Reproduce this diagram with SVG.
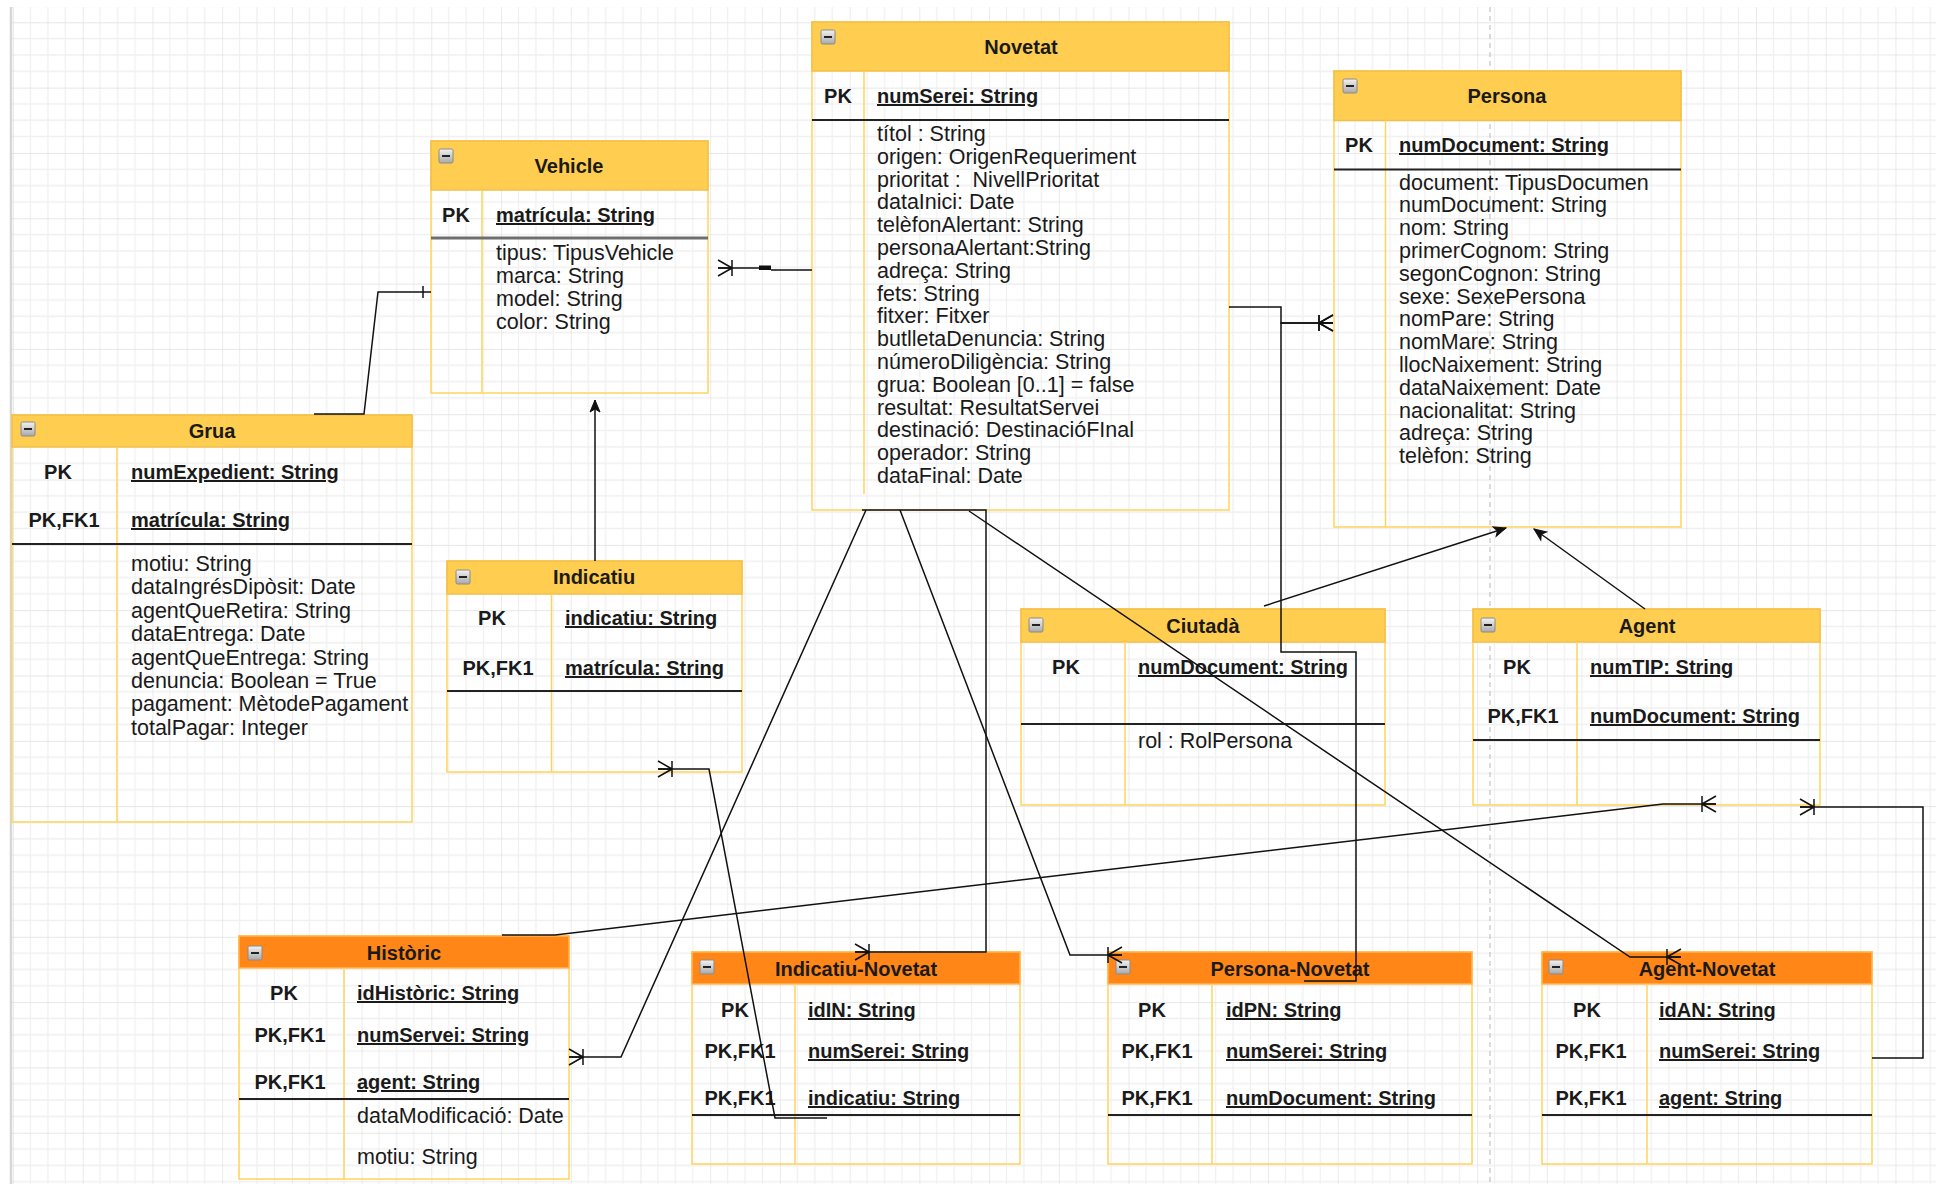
<svg xmlns="http://www.w3.org/2000/svg" xmlns:xlink="http://www.w3.org/1999/xlink" width="1936" height="1184" viewBox="0 0 1936 1184">
  <style>
    .hdr { fill: #FFCD4F; stroke: #F2C04A; stroke-width: 1.5; }
    .hdr2 { fill: #FF8617; stroke: #FFB54D; stroke-width: 1.5; }
    .box { fill: none; stroke: #FFD45C; stroke-width: 1.5; }
    .col { stroke: #FFD45C; stroke-width: 1.5; }
    .div { stroke: #222; stroke-width: 2; }
    .t { font-family: "Liberation Sans", Arial, sans-serif; font-size: 21.5px; fill: #1a1a1a; }
    .k { font-family: "Liberation Sans", Arial, sans-serif; font-size: 20px; font-weight: bold; fill: #1a1a1a; }
    .u { text-decoration: underline; }
    .c { text-anchor: middle; }
    .edge { fill: none; stroke: #111; stroke-width: 1.5; }
  </style>
  <defs>
    <pattern id="grid" x="13" y="22.3" width="69.72" height="65.32" patternUnits="userSpaceOnUse">
      <path d="M17.43,0V65.32M34.86,0V65.32M52.29,0V65.32M0,16.33H69.72M0,32.66H69.72M0,48.99H69.72" stroke="#f0f0f0" stroke-width="1.3" fill="none"/>
      <path d="M0,0V65.32M0,0H69.72" stroke="#e0e0e0" stroke-width="1.3" fill="none"/>
    </pattern>
    <linearGradient id="btn" x1="0" y1="0" x2="0" y2="1">
      <stop offset="0" stop-color="#f2f2f2"/>
      <stop offset="1" stop-color="#a9a9a9"/>
    </linearGradient>
    <g id="mn">
      <rect x="0" y="0" width="14" height="14" rx="1.5" fill="url(#btn)" stroke="#8a8a8a" stroke-width="1"/>
      <rect x="3" y="6" width="8" height="2" fill="#222"/>
    </g>
    <marker id="many" viewBox="-17 -10 19 20" refX="0" refY="0" markerWidth="19" markerHeight="20" markerUnits="userSpaceOnUse" orient="auto" overflow="visible">
      <path d="M-14,-8V8M-14,0L0,-8M-14,0L0,8M-14,0H0" fill="none" stroke="#111" stroke-width="1.5"/>
    </marker>
    <marker id="one" viewBox="-10 -8 12 16" refX="0" refY="0" markerWidth="12" markerHeight="16" markerUnits="userSpaceOnUse" orient="auto" overflow="visible">
      <path d="M-8,-6V6" fill="none" stroke="#111" stroke-width="1.5"/>
    </marker>
    <marker id="arrow" viewBox="-13 -6 14 12" refX="0" refY="0" markerWidth="14" markerHeight="12" markerUnits="userSpaceOnUse" orient="auto" overflow="visible">
      <path d="M0,0L-12,-5L-9,0L-12,5Z" fill="#111" stroke="#111" stroke-width="1"/>
    </marker>
  </defs>

  <!-- canvas -->
  <rect x="0" y="0" width="1936" height="1184" fill="#ffffff"/>
  <rect x="11" y="7" width="1925" height="1177" fill="url(#grid)"/>
  <line x1="11" y1="7" x2="11" y2="1184" stroke="#d6d6d6" stroke-width="2.5"/>
  <line x1="1490" y1="7" x2="1490" y2="1184" stroke="#b8b8b8" stroke-width="1" stroke-dasharray="5 4"/>

  <!-- Vehicle -->
  <g id="vehicle">
    <rect class="box" x="431" y="141" width="277" height="252"/>
    <rect class="hdr" x="431" y="141" width="277" height="49"/>
    <use href="#mn" x="439" y="149"/>
    <text class="k c" x="569" y="173">Vehicle</text>
    <line class="col" x1="482" y1="190" x2="482" y2="393"/>
    <line x1="431" y1="238" x2="708" y2="238" stroke="#6f6f6f" stroke-width="3"/>
    <text class="k c" x="456" y="222">PK</text>
    <text class="k u" x="496" y="222">matrícula: String</text>
    <text class="t" x="496" y="260">tipus: TipusVehicle</text>
    <text class="t" x="496" y="283">marca: String</text>
    <text class="t" x="496" y="306">model: String</text>
    <text class="t" x="496" y="329">color: String</text>
  </g>

  <!-- Novetat -->
  <g id="novetat">
    <rect class="box" x="812" y="22" width="417" height="488"/>
    <rect class="hdr" x="812" y="22" width="417" height="49"/>
    <use href="#mn" x="821" y="30"/>
    <text class="k c" x="1021" y="54">Novetat</text>
    <line class="col" x1="864" y1="71" x2="864" y2="494"/>
    <line class="div" x1="812" y1="120" x2="1229" y2="120"/>
    <text class="k c" x="838" y="103">PK</text>
    <text class="k u" x="877" y="103">numSerei: String</text>
    <text class="t" x="877" y="141">títol : String</text>
    <text class="t" x="877" y="163.8">origen: OrigenRequeriment</text>
    <text class="t" x="877" y="186.6">prioritat : &#160;NivellPrioritat</text>
    <text class="t" x="877" y="209.4">dataInici: Date</text>
    <text class="t" x="877" y="232.2">telèfonAlertant: String</text>
    <text class="t" x="877" y="255">personaAlertant:String</text>
    <text class="t" x="877" y="277.8">adreça: String</text>
    <text class="t" x="877" y="300.6">fets: String</text>
    <text class="t" x="877" y="323.4">fitxer: Fitxer</text>
    <text class="t" x="877" y="346.2">butlletaDenuncia: String</text>
    <text class="t" x="877" y="369">númeroDiligència: String</text>
    <text class="t" x="877" y="391.8">grua: Boolean [0..1] = false</text>
    <text class="t" x="877" y="414.6">resultat: ResultatServei</text>
    <text class="t" x="877" y="437.4">destinació: DestinacióFInal</text>
    <text class="t" x="877" y="460.2">operador: String</text>
    <text class="t" x="877" y="483">dataFinal: Date</text>
  </g>

  <!-- Persona -->
  <g id="persona">
    <rect class="box" x="1334" y="71" width="347" height="456"/>
    <rect class="hdr" x="1334" y="71" width="347" height="49.5"/>
    <use href="#mn" x="1343" y="79"/>
    <text class="k c" x="1507" y="103">Persona</text>
    <line class="col" x1="1385.5" y1="120.5" x2="1385.5" y2="527"/>
    <line class="div" x1="1334" y1="169.5" x2="1681" y2="169.5"/>
    <text class="k c" x="1359" y="152">PK</text>
    <text class="k u" x="1399" y="152">numDocument: String</text>
    <text class="t" x="1399" y="189.5">document: TipusDocumen</text>
    <text class="t" x="1399" y="212.3">numDocument: String</text>
    <text class="t" x="1399" y="235.1">nom: String</text>
    <text class="t" x="1399" y="257.9">primerCognom: String</text>
    <text class="t" x="1399" y="280.7">segonCognon: String</text>
    <text class="t" x="1399" y="303.5">sexe: SexePersona</text>
    <text class="t" x="1399" y="326.3">nomPare: String</text>
    <text class="t" x="1399" y="349.1">nomMare: String</text>
    <text class="t" x="1399" y="371.9">llocNaixement: String</text>
    <text class="t" x="1399" y="394.7">dataNaixement: Date</text>
    <text class="t" x="1399" y="417.5">nacionalitat: String</text>
    <text class="t" x="1399" y="440.3">adreça: String</text>
    <text class="t" x="1399" y="463.1">telèfon: String</text>
  </g>

  <!-- Grua -->
  <g id="grua">
    <rect class="box" x="12" y="415" width="400" height="407"/>
    <rect class="hdr" x="12" y="415" width="400" height="32"/>
    <use href="#mn" x="21" y="422"/>
    <text class="k c" x="212" y="438">Grua</text>
    <line class="col" x1="117" y1="447" x2="117" y2="822"/>
    <line class="div" x1="12" y1="544" x2="412" y2="544"/>
    <text class="k c" x="58" y="479">PK</text>
    <text class="k c" x="64" y="527">PK,FK1</text>
    <text class="k u" x="131" y="479">numExpedient: String</text>
    <text class="k u" x="131" y="527">matrícula: String</text>
    <text class="t" x="131" y="571">motiu: String</text>
    <text class="t" x="131" y="594.4">dataIngrésDipòsit: Date</text>
    <text class="t" x="131" y="617.8">agentQueRetira: String</text>
    <text class="t" x="131" y="641.2">dataEntrega: Date</text>
    <text class="t" x="131" y="664.6">agentQueEntrega: String</text>
    <text class="t" x="131" y="688">denuncia: Boolean = True</text>
    <text class="t" x="131" y="711.4">pagament: MètodePagament</text>
    <text class="t" x="131" y="734.8">totalPagar: Integer</text>
  </g>

  <!-- Indicatiu -->
  <g id="indicatiu">
    <rect class="box" x="447" y="561" width="295" height="211"/>
    <rect class="hdr" x="447" y="561" width="295" height="33"/>
    <use href="#mn" x="456" y="570"/>
    <text class="k c" x="594" y="584">Indicatiu</text>
    <line class="col" x1="551.5" y1="594" x2="551.5" y2="772"/>
    <line class="div" x1="447" y1="691" x2="742" y2="691"/>
    <text class="k c" x="492" y="625">PK</text>
    <text class="k c" x="498" y="675">PK,FK1</text>
    <text class="k u" x="565" y="625">indicatiu: String</text>
    <text class="k u" x="565" y="675">matrícula: String</text>
  </g>

  <!-- Ciutadà -->
  <g id="ciutada">
    <rect class="box" x="1021" y="609" width="364" height="196"/>
    <rect class="hdr" x="1021" y="609" width="364" height="33"/>
    <use href="#mn" x="1029" y="618"/>
    <text class="k c" x="1203" y="633">Ciutadà</text>
    <line class="col" x1="1125" y1="642" x2="1125" y2="805"/>
    <line class="div" x1="1021" y1="724" x2="1385" y2="724"/>
    <text class="k c" x="1066" y="674">PK</text>
    <text class="k u" x="1138" y="674">numDocument: String</text>
    <text class="t" x="1138" y="748">rol : RolPersona</text>
  </g>

  <!-- Agent -->
  <g id="agent">
    <rect class="box" x="1473" y="609" width="347" height="196"/>
    <rect class="hdr" x="1473" y="609" width="347" height="33"/>
    <use href="#mn" x="1481" y="618"/>
    <text class="k c" x="1647" y="633">Agent</text>
    <line class="col" x1="1577" y1="642" x2="1577" y2="805"/>
    <line class="div" x1="1473" y1="740" x2="1820" y2="740"/>
    <text class="k c" x="1517" y="674">PK</text>
    <text class="k c" x="1523" y="723">PK,FK1</text>
    <text class="k u" x="1590" y="674">numTIP: String</text>
    <text class="k u" x="1590" y="723">numDocument: String</text>
  </g>

  <!-- Històric -->
  <g id="historic">
    <rect class="box" x="239" y="936" width="330" height="243"/>
    <rect class="hdr2" x="239" y="936" width="330" height="32"/>
    <use href="#mn" x="248" y="946"/>
    <text class="k c" x="404" y="960">Històric</text>
    <line class="col" x1="344" y1="968" x2="344" y2="1179"/>
    <line class="div" x1="239" y1="1099" x2="569" y2="1099"/>
    <text class="k c" x="284" y="1000">PK</text>
    <text class="k c" x="290" y="1042">PK,FK1</text>
    <text class="k c" x="290" y="1089">PK,FK1</text>
    <text class="k u" x="357" y="1000">idHistòric: String</text>
    <text class="k u" x="357" y="1042">numServei: String</text>
    <text class="k u" x="357" y="1089">agent: String</text>
    <text class="t" x="357" y="1123">dataModificació: Date</text>
    <text class="t" x="357" y="1164">motiu: String</text>
  </g>

  <!-- Indicatiu-Novetat -->
  <g id="indicatiu-novetat">
    <rect class="box" x="692" y="952" width="328" height="212"/>
    <rect class="hdr2" x="692" y="952" width="328" height="32"/>
    <use href="#mn" x="700" y="960"/>
    <text class="k c" x="856" y="976">Indicatiu-Novetat</text>
    <line class="col" x1="795" y1="984" x2="795" y2="1164"/>
    <line class="div" x1="692" y1="1115" x2="1020" y2="1115"/>
    <text class="k c" x="735" y="1017">PK</text>
    <text class="k c" x="740" y="1058">PK,FK1</text>
    <text class="k c" x="740" y="1105">PK,FK1</text>
    <text class="k u" x="808" y="1017">idIN: String</text>
    <text class="k u" x="808" y="1058">numSerei: String</text>
    <text class="k u" x="808" y="1105">indicatiu: String</text>
  </g>

  <!-- Persona-Novetat -->
  <g id="persona-novetat">
    <rect class="box" x="1108" y="952" width="364" height="212"/>
    <rect class="hdr2" x="1108" y="952" width="364" height="32"/>
    <use href="#mn" x="1116" y="960"/>
    <text class="k c" x="1290" y="976">Persona-Novetat</text>
    <line class="col" x1="1212" y1="984" x2="1212" y2="1164"/>
    <line class="div" x1="1108" y1="1115" x2="1472" y2="1115"/>
    <text class="k c" x="1152" y="1017">PK</text>
    <text class="k c" x="1157" y="1058">PK,FK1</text>
    <text class="k c" x="1157" y="1105">PK,FK1</text>
    <text class="k u" x="1226" y="1017">idPN: String</text>
    <text class="k u" x="1226" y="1058">numSerei: String</text>
    <text class="k u" x="1226" y="1105">numDocument: String</text>
  </g>

  <!-- Agent-Novetat -->
  <g id="agent-novetat">
    <rect class="box" x="1542" y="952" width="330" height="212"/>
    <rect class="hdr2" x="1542" y="952" width="330" height="32"/>
    <use href="#mn" x="1549" y="960"/>
    <text class="k c" x="1707" y="976">Agent-Novetat</text>
    <line class="col" x1="1647" y1="984" x2="1647" y2="1164"/>
    <line class="div" x1="1542" y1="1115" x2="1872" y2="1115"/>
    <text class="k c" x="1587" y="1017">PK</text>
    <text class="k c" x="1591" y="1058">PK,FK1</text>
    <text class="k c" x="1591" y="1105">PK,FK1</text>
    <text class="k u" x="1659" y="1017">idAN: String</text>
    <text class="k u" x="1659" y="1058">numSerei: String</text>
    <text class="k u" x="1659" y="1105">agent: String</text>
  </g>

  <!-- relationships -->
  <g id="connectors">
    <path class="edge" d="M314,414H364L378,292H431" marker-end="url(#one)"/>
    <path class="edge" d="M812,270H771M759,268H718" marker-end="url(#many)"/>
    <rect x="759" y="265.5" width="12" height="4.5" fill="#111"/>
    <path class="edge" d="M1229,307H1281V323H1333" marker-end="url(#many)"/>
    <path class="edge" d="M1304,981H1356V652H1281V323H1333" marker-end="url(#many)"/>
    <path class="edge" d="M866,510L621,1057H569" marker-end="url(#many)"/>
    <path class="edge" d="M900,510L1070,955H1122" marker-end="url(#many)"/>
    <path class="edge" d="M862,510H986V952H855" marker-end="url(#many)"/>
    <path class="edge" d="M969,511L1630,957H1681" marker-end="url(#many)"/>
    <path class="edge" d="M595,561V400" marker-end="url(#arrow)"/>
    <path class="edge" d="M827,1118H775L709,769H658" marker-end="url(#many)"/>
    <path class="edge" d="M1264,606L1506,528" marker-end="url(#arrow)"/>
    <path class="edge" d="M1645,609L1534,529" marker-end="url(#arrow)"/>
    <path class="edge" d="M1872,1058H1923V807H1800" marker-end="url(#many)"/>
    <path class="edge" d="M502,935H555L1663,804H1716" marker-end="url(#many)"/>
  </g>
</svg>
